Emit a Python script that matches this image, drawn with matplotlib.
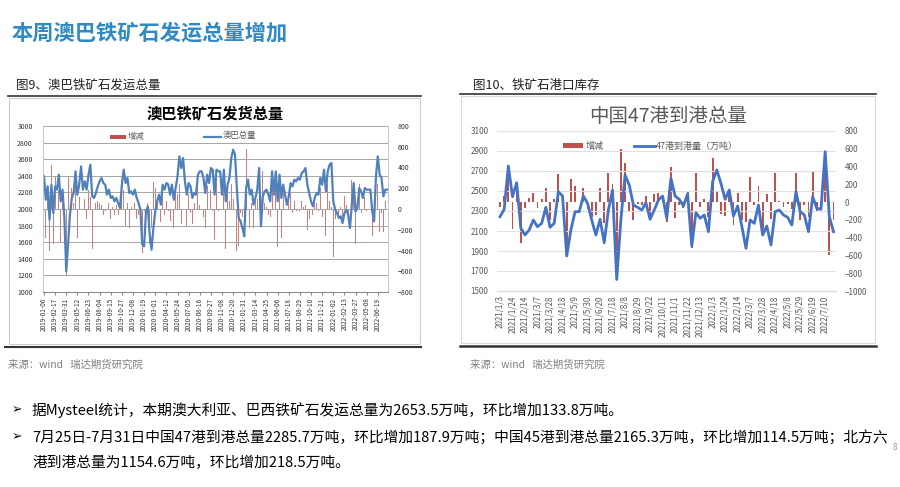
import numpy as np
import pandas as pd
import matplotlib
matplotlib.use('Agg')
import matplotlib.pyplot as plt
from matplotlib.patches import Rectangle
from matplotlib.lines import Line2D

plt.rcParams['font.family'] = ['Noto Sans CJK SC', 'DejaVu Sans']

W, H = 900, 487

# ---- chart 9: Australia + Brazil shipments (weekly, 万吨)
au_br_total = [
    2394, 2112, 2273, 1871, 2293, 1952, 2273, 2233, 2414, 2092,
    2233, 1892, 1249, 1570, 1932, 2133, 2193, 2454, 2173, 2293,
    2514, 2233, 2333, 2233, 2414, 2534, 2153, 2133, 2193, 2273,
    2333, 2374, 2313, 2293, 2173, 2233, 2133, 2153, 2092, 2133,
    2072, 2012, 2293, 2474, 2313, 2374, 2193, 2213, 2173, 2233,
    2133, 2072, 1992, 1570, 1550, 1972, 2032, 1691, 1510, 1771,
    1972, 2092, 2173, 2052, 2293, 2233, 2313, 2293, 2173, 2293,
    2112, 2253, 2394, 2634, 2494, 2614, 2333, 2173, 2313, 2273,
    2133, 2193, 2173, 2414, 2454, 2454, 2374, 2193, 2414, 2313,
    2494, 2474, 2173, 2474, 2454, 2454, 2173, 2474, 2092, 2293,
    2374, 2614, 2715, 2655, 2253, 1892, 1851, 1771, 1671, 2253,
    2353, 2173, 2233, 2052, 2133, 2233, 2494, 1791, 2153, 2213,
    2233, 2173, 2092, 2454, 2173, 2454, 2092, 2414, 2133, 2293,
    2173, 2052, 2153, 2313, 2273, 2353, 2333, 2374, 2353, 2434,
    2454, 2494, 2293, 2193, 2092, 2032, 2133, 2193, 2173, 2374,
    2293, 2474, 2213, 2454, 2534, 2554, 2092, 1992, 1952, 1892,
    1912, 1831, 1952, 1992, 1932, 1771, 2052, 2313, 1972, 2012,
    2253, 2213, 2133, 2253, 2233, 2233, 2233, 1972, 1851, 2394,
    2634, 2414, 2374, 2153, 2233, 2233]
au_br_change = [
    -230, -282, 161, -402, 422, -341, 321, -40, 181, -322,
    141, -341, -643, 321, 362, 201, 60, 261, -281, 120,
    221, -281, 100, -100, 181, 120, -381, -20, 60, 80,
    60, 41, -61, -20, -120, 60, -100, 20, -61, 41,
    -61, -60, 281, 181, -161, 61, -181, 20, -40, 60,
    -100, -61, -80, -422, -20, 422, 60, -341, -181, 261,
    201, 120, 81, -121, 241, -60, 80, -20, -120, 120,
    -181, 141, 141, 240, -140, 120, -281, -160, 140, -40,
    -140, 60, -20, 241, 40, 0, -80, -181, 221, -101,
    181, -20, -301, 301, -20, 0, -281, 301, -382, 201,
    81, 240, 101, -60, -402, -361, -41, -80, -100, 582,
    100, -180, 60, -181, 81, 100, 261, -500, 362, 60,
    20, -60, -81, 362, -281, 281, -362, 322, -281, 160,
    -120, -121, 101, 160, -40, 80, -20, 41, -21, 81,
    20, 40, -201, -100, -101, -60, 101, 60, -20, 201,
    -81, 181, -261, 241, 80, 20, -462, -100, -40, -60,
    20, -81, 121, 40, -60, -161, 281, 261, -341, 40,
    241, -40, -80, 120, -20, 0, 0, -261, -121, 543,
    240, -220, -40, -221, 80, 20]
au_br_dates = pd.date_range('2019-01-06', periods=len(au_br_total), freq='7D').strftime('%Y-%m-%d')

# ---- chart 10: arrivals at 47 Chinese ports (weekly, 万吨)
port47_total = [
    2243, 2317, 2750, 2443, 2583, 2127, 2060, 2110, 2210, 2143,
    2177, 2337, 2137, 2177, 2493, 2450, 1850, 2110, 2293, 2293,
    2450, 2377, 2210, 2060, 2217, 1983, 2310, 2510, 1615, 2215,
    2660, 2560, 2360, 2337, 2310, 2383, 2217, 2310, 2410, 2450,
    2227, 2627, 2450, 2417, 2350, 2470, 1950, 2283, 2227, 2260,
    2093, 2593, 2710, 2577, 2417, 2510, 2250, 2350, 2150, 1927,
    2210, 2177, 2360, 2060, 2150, 1960, 2293, 2310, 2260, 2237,
    2160, 2493, 2293, 2260, 2093, 2443, 2327, 2317, 2893, 2243,
    2093]
port47_change = [
    -60, 74, 400, -307, 140, -456, -67, 50, 100, -67,
    34, 160, -200, 40, 316, -43, -600, 260, 183, 0,
    157, -73, -167, -150, 157, -234, 327, 200, -870, 600,
    445, -100, -200, -23, -27, 73, -166, 93, 100, 40,
    -223, 400, -177, -33, -67, 120, -520, 333, -56, 33,
    -167, 500, 117, -133, -160, 93, -260, 100, -200, -223,
    283, -33, 183, -300, 90, -190, 333, 17, -50, -23,
    -77, 333, -200, -33, -167, 350, -116, -10, 400, -590,
    -200]
port47_ticks = ['2021/1/3', '2021/1/24', '2021/2/14', '2021/3/7', '2021/3/28',
                '2021/4/18', '2021/5/9', '2021/5/30', '2021/6/20', '2021/7/18',
                '2021/8/8', '2021/8/29', '2021/9/22', '2021/10/11', '2021/11/1',
                '2021/11/22', '2021/12/13', '2022/1/3', '2022/1/24', '2022/2/14',
                '2022/3/7', '2022/3/28', '2022/4/18', '2022/5/8', '2022/5/29',
                '2022/6/19', '2022/7/10']

RED = '#C0504D'
BLUE1 = '#4F81BD'
BLUE2 = '#4472C4'
GRAY = '#595959'

fig = plt.figure(figsize=(W / 100, H / 100), dpi=100)
fig.patch.set_facecolor('white')


def box(x0, y0, x1, y1):
    return [x0 / W, 1 - y1 / H, (x1 - x0) / W, (y1 - y0) / H]


def ftext(x, y, s, **kw):
    kw.setdefault('va', 'center')
    fig.text(x / W, 1 - y / H, s, **kw)


def hline(x0, x1, y, **kw):
    fig.add_artist(Line2D([x0 / W, x1 / W], [1 - y / H, 1 - y / H], **kw))


def frame(x0, y0, x1, y1, **kw):
    fig.add_artist(Rectangle((x0 / W, 1 - y1 / H), (x1 - x0) / W, (y1 - y0) / H,
                             transform=fig.transFigure, fill=False, **kw))


# page header
ftext(12, 33, '本周澳巴铁矿石发运总量增加', fontsize=15.3, fontweight='bold', color='#2f8ac4')

# ---------------- left panel ----------------
ftext(16, 85, '图9、澳巴铁矿石发运总量', fontsize=9, color='#222222')
hline(8, 421, 96, color='#333333', lw=1.2)
frame(9, 98, 420, 344, ec='#cccccc', lw=0.8)
hline(5, 421, 347, color='#333333', lw=1.5)
ftext(215, 113, '澳巴铁矿石发货总量', fontsize=11, fontweight='bold', ha='center', color='black')

ax1 = fig.add_axes(box(42.5, 126, 388, 292))
ax1b = ax1.twinx()
x1 = np.arange(len(au_br_total))
ax1b.bar(x1, au_br_change, width=0.45, color=RED, alpha=0.75, linewidth=0)
ax1.plot(x1, au_br_total, color=BLUE1, lw=1.6, solid_joinstyle='round')
ax1.set_zorder(ax1b.get_zorder() + 1)
ax1.patch.set_visible(False)
ax1.set_xlim(-0.8, 185.5)
ax1.set_ylim(1000, 3000)
ax1b.set_ylim(-800, 800)
ax1.set_yticks(range(1000, 3001, 200))
ax1b.set_yticks(range(-800, 801, 200))
ax1.grid(axis='y', color='#a6a6a6', lw=0.7)
ax1.set_xticks(x1[::6])
ax1.set_xticklabels(au_br_dates[::6], rotation=90, fontsize=4.6, color='#333333')
ax1.tick_params(axis='x', length=2, pad=2, color='#888888')
ax1.tick_params(axis='y', length=0, pad=7, labelsize=5, labelcolor='#333333')
ax1b.tick_params(axis='y', length=0, pad=7, labelsize=5, labelcolor='#333333')
for ax in (ax1, ax1b):
    ax.spines['top'].set_visible(False)
    for side in ('left', 'right'):
        ax.spines[side].set_color('#c8c8c8')
        ax.spines[side].set_linewidth(0.6)
    ax.spines['bottom'].set_color('#888888')
    ax.spines['bottom'].set_linewidth(0.7)

# legend 1
fig.add_artist(Rectangle((110 / W, 1 - 138.5 / H), 16 / W, 4 / H, transform=fig.transFigure,
                         color=RED, lw=0))
ftext(128, 136, '增减', fontsize=6, color=GRAY)
hline(204, 221, 136.5, color=BLUE1, lw=1.6)
ftext(223, 136, '澳巴总量', fontsize=6, color=GRAY)

ftext(8, 365, '来源：wind   瑞达期货研究院', fontsize=7.5, color='#808080')

# ---------------- right panel ----------------
ftext(473, 85, '图10、铁矿石港口库存', fontsize=9, color='#222222')
hline(460, 876, 94, color='#333333', lw=1.2)
frame(461, 96, 875, 343, ec='#d9d9d9', lw=0.8)
hline(460, 876, 345.5, color='#333333', lw=1.8)
ftext(668, 117, '中国47港到港总量', fontsize=14, ha='center', color=GRAY)

ax2 = fig.add_axes(box(497, 131, 836, 291))
ax2b = ax2.twinx()
x2 = np.arange(len(port47_total))
ax2b.bar(x2, port47_change, width=0.45, color=RED, linewidth=0)
ax2.plot(x2, port47_total, color=BLUE2, lw=2.0, solid_joinstyle='round')
ax2.set_zorder(ax2b.get_zorder() + 1)
ax2.patch.set_visible(False)
ax2.set_xlim(-0.72, 80.6)
ax2.set_ylim(1500, 3100)
ax2b.set_ylim(-1000, 800)
ax2.set_yticks(range(1500, 3101, 200))
ax2b.set_yticks(range(-1000, 801, 200))
ax2.grid(axis='y', color='#e0e0e0', lw=0.8)
ax2.set_xticks(x2[:79:3])
ax2.set_xticklabels(port47_ticks, rotation=90, fontsize=5.8, color=GRAY)
ax2.tick_params(axis='x', length=0, pad=3)
ax2.tick_params(axis='y', length=0, pad=6, labelsize=5.8, labelcolor=GRAY)
ax2b.tick_params(axis='y', length=0, pad=6, labelsize=5.8, labelcolor=GRAY)
for ax in (ax2, ax2b):
    for side in ('top', 'left', 'right'):
        ax.spines[side].set_visible(False)
    ax.spines['bottom'].set_color('#d9d9d9')
    ax.spines['bottom'].set_linewidth(0.8)

# legend 2
fig.add_artist(Rectangle((563 / W, 1 - 148.5 / H), 20 / W, 5 / H, transform=fig.transFigure,
                         color=RED, lw=0))
ftext(586, 146, '增减', fontsize=6.5, color=GRAY)
hline(634, 655, 146, color=BLUE2, lw=2.0)
ftext(656, 146, '47港到港量（万吨）', fontsize=6.5, color=GRAY)

ftext(470, 365, '来源：wind   瑞达期货研究院', fontsize=7.5, color='#808080')

# ---------------- bullet text ----------------
fam = ['Noto Sans CJK SC', 'DejaVu Sans']
ftext(12, 410, '➢', fontsize=9, family=['DejaVu Sans'], color='black')
ftext(32, 410, '据Mysteel统计，本期澳大利亚、巴西铁矿石发运总量为2653.5万吨，环比增加133.8万吨。',
      fontsize=10.6, family=fam, color='black')
ftext(12, 437, '➢', fontsize=9, family=['DejaVu Sans'], color='black')
ftext(32, 437, '7月25日-7月31日中国47港到港总量2285.7万吨，环比增加187.9万吨；'
      '中国45港到港总量2165.3万吨，环比增加114.5万吨；北方六',
      fontsize=10.6, family=fam, color='black')
ftext(32, 463, '港到港总量为1154.6万吨，环比增加218.5万吨。', fontsize=10.6, family=fam, color='black')
ftext(895, 447, '8', fontsize=6, color='#999999', ha='center')

fig.savefig('out.png', dpi=100)
